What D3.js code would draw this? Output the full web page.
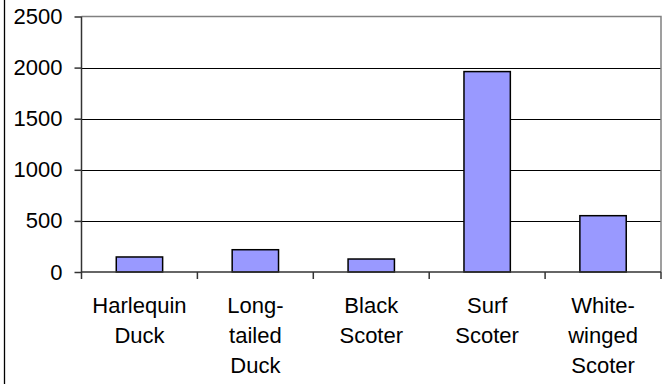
<!DOCTYPE html>
<html>
<head>
<meta charset="utf-8">
<script src="https://cdn.jsdelivr.net/npm/d3@7"></script>
<style>
  html, body { margin: 0; padding: 0; background: #fff; }
  svg { display: block; font-family: "Liberation Sans", Arial, sans-serif; }
</style>
</head>
<body>
<div id="chart"></div>
<script>
// Duck counts by species
const species = ["Harlequin Duck", "Long-tailed Duck", "Black Scoter", "Surf Scoter", "White-winged Scoter"];
const labelLines = [["Harlequin", "Duck"], ["Long-", "tailed", "Duck"], ["Black", "Scoter"], ["Surf", "Scoter"], ["White-", "winged", "Scoter"]];
const counts = [147, 218, 127, 1961, 551];
const yTicks = [0, 500, 1000, 1500, 2000, 2500];

const width = 670, height = 384;
const margin = { left: 81.5, right: 9, top: 16.5, bottom: 112 };

const svg = d3.select("#chart").append("svg")
    .attr("width", width)
    .attr("height", height);

// outer chart border (only the left side is visible in the frame)
svg.append("rect")
    .attr("x", 4.5).attr("y", -5)
    .attr("width", width + 10).attr("height", height + 10)
    .attr("fill", "none")
    .attr("stroke", "#000")
    .attr("stroke-width", 1.3);

const x = d3.scaleBand()
    .domain(species)
    .range([margin.left, width - margin.right])
    .paddingInner(0.6)
    .paddingOuter(0.3);

const y = d3.scaleLinear()
    .domain([0, 2500])
    .range([height - margin.bottom, margin.top]);

const x0 = margin.left, x1 = width - margin.right;

// gridlines
svg.append("g")
    .selectAll("line")
    .data(yTicks.filter(d => d > 0 && d < 2500))
    .enter().append("line")
    .attr("x1", x0).attr("x2", x1)
    .attr("y1", d => Math.round(y(d)) + 0.5)
    .attr("y2", d => Math.round(y(d)) + 0.5)
    .attr("stroke", "#000")
    .attr("stroke-width", 1);

// plot area border (top and right)
svg.append("path")
    .attr("d", `M${x0},${y(2500)}H${x1}V${y(0)}`)
    .attr("fill", "none")
    .attr("stroke", "#808080")
    .attr("stroke-width", 1.5);

// bars
svg.append("g")
    .selectAll("rect")
    .data(counts)
    .enter().append("rect")
    .attr("x", (d, i) => x(species[i]))
    .attr("y", d => y(d))
    .attr("width", x.bandwidth())
    .attr("height", d => y(0) - y(d))
    .attr("fill", "#9999ff")
    .attr("stroke", "#000")
    .attr("stroke-width", 1.5);

// y axis
const yAxis = svg.append("g")
    .attr("transform", `translate(${x0},0)`)
    .call(d3.axisLeft(y).tickValues(yTicks).tickSize(7).tickPadding(12).tickFormat(d3.format("d")));
yAxis.select(".domain").attr("stroke", "#333").attr("stroke-width", 1.5).attr("d", `M0,${y(2500)}V${y(0)}`);
yAxis.selectAll(".tick line").attr("stroke", "#333").attr("stroke-width", 1.5);
yAxis.selectAll("text").attr("font-size", 22).attr("fill", "#000")
    .attr("font-family", "'Liberation Sans', Arial, sans-serif");

// x axis with ticks at category boundaries
const step = (x1 - x0) / species.length;
const xAxis = svg.append("g");
xAxis.append("line")
    .attr("x1", x0).attr("x2", x1)
    .attr("y1", y(0)).attr("y2", y(0))
    .attr("stroke", "#333").attr("stroke-width", 1.5);
xAxis.selectAll(".xt")
    .data(d3.range(species.length + 1))
    .enter().append("line")
    .attr("class", "xt")
    .attr("x1", i => x0 + i * step).attr("x2", i => x0 + i * step)
    .attr("y1", y(0)).attr("y2", y(0) + 7)
    .attr("stroke", "#333").attr("stroke-width", 1.5);

const labels = svg.append("g")
    .selectAll("text")
    .data(species)
    .enter().append("text")
    .attr("x", d => x(d) + x.bandwidth() / 2)
    .attr("y", y(0) + 41)
    .attr("text-anchor", "middle")
    .attr("font-size", 22)
    .attr("fill", "#000");

labels.selectAll("tspan")
    .data((d, i) => labelLines[i])
    .enter().append("tspan")
    .attr("x", function() { return this.parentNode.getAttribute("x"); })
    .attr("dy", (d, j) => j === 0 ? 0 : 30)
    .text(d => d);
</script>
</body>
</html>
